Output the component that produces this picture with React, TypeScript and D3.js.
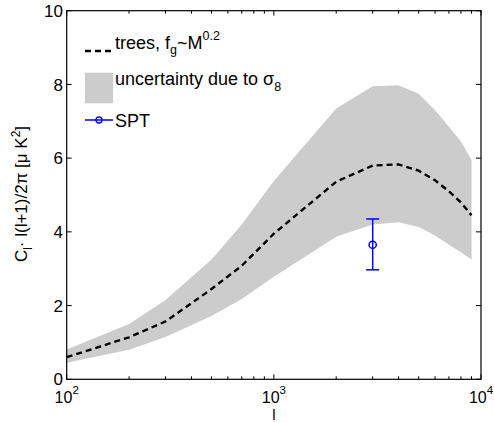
import React from "react";
import * as d3 from "d3";

const ells = [100, 200, 300, 500, 700, 1000, 2000, 3000, 4000, 5000, 6000, 7000, 8000, 9000];
const treesLine = [0.6, 1.14, 1.57, 2.45, 3.08, 3.95, 5.36, 5.8, 5.83, 5.66, 5.4, 5.1, 4.8, 4.45];
const bandUpper = [0.81, 1.5, 2.15, 3.25, 4.2, 5.38, 7.35, 7.95, 7.98, 7.75, 7.3, 6.85, 6.45, 5.95];
const bandLower = [0.45, 0.8, 1.15, 1.72, 2.18, 2.78, 3.87, 4.2, 4.26, 4.13, 3.9, 3.65, 3.45, 3.25];

const sptEll = [3000];
const sptVal = [3.65];
const sptLow = [2.97];
const sptHigh = [4.35];

const yTicks = [0, 2, 4, 6, 8, 10];
const xMajor = [100, 1000, 10000];
const xMajorExp = ["2", "3", "4"];

const FONT = "Liberation Sans, Arial, Helvetica, sans-serif";

export default function App() {
  const L = 66.7, R = 481, T = 10.7, B = 379.3;
  const x = d3.scaleLog().domain([100, 10000]).range([L, R]);
  const y = d3.scaleLinear().domain([0, 10]).range([B, T]);

  const idx = ells.map((_, i) => i);
  const area = d3
    .area<number>()
    .x((i) => x(ells[i]))
    .y0((i) => y(bandLower[i]))
    .y1((i) => y(bandUpper[i]));
  const line = d3
    .line<number>()
    .x((i) => x(ells[i]))
    .y((i) => y(treesLine[i]));

  const xMinor: number[] = [];
  for (const dec of [100, 1000]) {
    for (let k = 2; k <= 9; k++) xMinor.push(dec * k);
  }

  return (
    <svg
      width={494}
      height={423}
      style={{ position: "absolute", left: 0, top: 0, background: "#fff" }}
      fontFamily={FONT}
    >
      <rect x={0} y={0} width={494} height={423} fill="#fff" />
      <path d={area(idx) || ""} fill="#cccccc" stroke="none" />
      <path
        d={line(idx) || ""}
        fill="none"
        stroke="#000"
        strokeWidth={2.4}
        strokeDasharray="6,4"
      />
      {/* SPT error bar */}
      {sptEll.map((e, i) => {
        const cx = x(e);
        return (
          <g key={i} stroke="#0000ff" strokeWidth={1.5} fill="none">
            <line x1={cx} x2={cx} y1={y(sptLow[i])} y2={y(sptHigh[i])} />
            <line x1={cx - 6.5} x2={cx + 6.5} y1={y(sptLow[i])} y2={y(sptLow[i])} />
            <line x1={cx - 6.5} x2={cx + 6.5} y1={y(sptHigh[i])} y2={y(sptHigh[i])} />
            <circle cx={cx} cy={y(sptVal[i])} r={3.6} fill="none" />
          </g>
        );
      })}

      {/* axes box */}
      <rect x={L} y={T} width={R - L} height={B - T} fill="none" stroke="#000" strokeWidth={1.2} />

      {/* y ticks */}
      {yTicks.map((t) => (
        <g key={t}>
          <line x1={L} x2={L + 5} y1={y(t)} y2={y(t)} stroke="#000" strokeWidth={1} />
          <line x1={R} x2={R - 5} y1={y(t)} y2={y(t)} stroke="#000" strokeWidth={1} />
          <text x={63} y={y(t)} dy="0.36em" textAnchor="end" fontSize={17} fill="#000">
            {t}
          </text>
        </g>
      ))}

      {/* x ticks */}
      {xMajor.map((t, i) => (
        <g key={t}>
          <line x1={x(t)} x2={x(t)} y1={B} y2={B - 5} stroke="#000" strokeWidth={1} />
          <line x1={x(t)} x2={x(t)} y1={T} y2={T + 5} stroke="#000" strokeWidth={1} />
          <text x={x(t)} y={402.5} textAnchor="middle" fontSize={16} fill="#000">
            10
            <tspan dy={-9} fontSize={11.5}>
              {xMajorExp[i]}
            </tspan>
          </text>
        </g>
      ))}
      {xMinor.map((t) => (
        <g key={t}>
          <line x1={x(t)} x2={x(t)} y1={B} y2={B - 3} stroke="#000" strokeWidth={1} />
          <line x1={x(t)} x2={x(t)} y1={T} y2={T + 3} stroke="#000" strokeWidth={1} />
        </g>
      ))}

      {/* axis labels */}
      <text x={274} y={419.8} textAnchor="middle" fontSize={15} fill="#000">
        l
      </text>
      <text
        transform="translate(27,194) rotate(-90)"
        textAnchor="middle"
        fontSize={17}
        fill="#000"
      >
        C
        <tspan dy={5} fontSize={12}>l</tspan>
        <tspan dy={-5}>· l(l+1)/2π [μ K</tspan>
        <tspan dy={-7} fontSize={12}>2</tspan>
        <tspan dy={7}>]</tspan>
      </text>

      {/* legend */}
      <line x1={85} x2={113} y1={51} y2={51} stroke="#000" strokeWidth={2.4} strokeDasharray="6,4" />
      <text x={115} y={48.5} fontSize={18} fill="#000">
        trees, f
        <tspan dy={5} fontSize={12.5}>g</tspan>
        <tspan dy={-5}>~M</tspan>
        <tspan dy={-9} fontSize={12.5}>0.2</tspan>
      </text>
      <rect x={85} y={72.7} width={28} height={30.6} fill="#cccccc" />
      <text x={115} y={85} fontSize={18} fill="#000">
        uncertainty due to σ
        <tspan dy={6} fontSize={12.5}>8</tspan>
      </text>
      <line x1={85} x2={113} y1={120} y2={120} stroke="#0000ff" strokeWidth={1.5} />
      <circle cx={99} cy={120} r={3} fill="none" stroke="#0000ff" strokeWidth={1.3} />
      <text x={115} y={127} fontSize={18} fill="#000">
        SPT
      </text>
    </svg>
  );
}
